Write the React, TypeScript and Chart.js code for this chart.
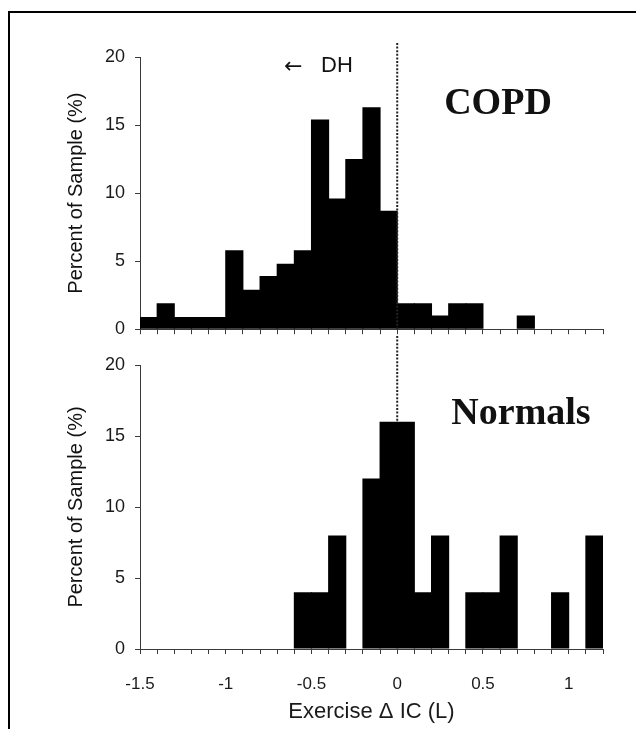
import React, { useEffect, useRef } from 'react';
import { Chart, registerables } from 'chart.js';

Chart.register(...registerables);

// Bin lower edges (L), each bin 0.1 L wide
const binStarts = [
  -1.5, -1.4, -1.3, -1.2, -1.1, -1.0, -0.9, -0.8, -0.7, -0.6, -0.5, -0.4, -0.3, -0.2,
  -0.1, 0.0, 0.1, 0.2, 0.3, 0.4, 0.5, 0.6, 0.7, 0.8, 0.9, 1.0, 1.1,
];

// Percent of sample, COPD
const copdPercent = [
  0.9, 1.9, 0.9, 0.9, 0.9, 5.8, 2.9, 3.9, 4.8, 5.8, 15.4, 9.6, 12.5, 16.3,
  8.7, 1.9, 1.9, 1.0, 1.9, 1.9, 0, 0, 1.0, 0, 0, 0, 0,
];

// Percent of sample, Normals
const normalsPercent = [
  0, 0, 0, 0, 0, 0, 0, 0, 0, 4, 4, 8, 0, 12,
  16, 16, 4, 8, 0, 4, 4, 8, 0, 0, 4, 0, 8,
];

const xTickLabels = ['-1.5', '-1', '-0.5', '0', '0.5', '1'];
const xMin = -1.5;
const xMax = 1.2;
const xStep = 0.1;
const yMin = 0;
const yMax = 20;
const yStep = 5;

const binWidth = 0.1;

const SANS = '"Liberation Sans", Arial, "DejaVu Sans", sans-serif';
const SERIF = '"Liberation Serif", "Times New Roman", serif';
const AXIS_COLOR = '#3a3a3a';

function makeData(values: number[]) {
  return binStarts.map((b, i) => ({ x: b + binWidth / 2, y: values[i] }));
}

function makeOptions(showXLabels: boolean, padTop: number, xAxisHeight: number) {
  return {
    responsive: false,
    animation: false as const,
    events: [],
    layout: { padding: { left: 60, right: 33, top: padTop, bottom: 0 } },
    plugins: { legend: { display: false }, tooltip: { enabled: false } },
    scales: {
      x: {
        type: 'linear' as const,
        min: xMin,
        max: xMax,
        offset: false,
        grid: {
          display: true,
          offset: false,
          drawOnChartArea: false,
          drawTicks: true,
          tickLength: 5,
          color: AXIS_COLOR,
          lineWidth: 1,
        },
        border: { display: true, color: AXIS_COLOR, width: 1 },
        ticks: {
          stepSize: xStep,
          autoSkip: false,
          maxRotation: 0,
          minRotation: 0,
          padding: 20,
          color: '#1a1a1a',
          font: { family: SANS, size: 17 },
          callback: (value: number) => {
            if (!showXLabels) return '';
            const lbl = xTickLabels.find((t) => Math.abs(parseFloat(t) - value) < 1e-6);
            return lbl ?? '';
          },
        },
        title: {
          display: showXLabels,
          text: 'Exercise Δ IC (L)',
          color: '#1a1a1a',
          font: { family: SANS, size: 22 },
          padding: { top: 4, bottom: 4 },
        },
        afterFit: (scale: any) => {
          scale.height = xAxisHeight;
        },
      },
      y: {
        min: yMin,
        max: yMax,
        grid: {
          display: true,
          drawOnChartArea: false,
          drawTicks: true,
          tickLength: 5,
          color: AXIS_COLOR,
          lineWidth: 1,
        },
        border: { display: true, color: AXIS_COLOR, width: 1 },
        ticks: {
          stepSize: yStep,
          padding: 10,
          color: '#1a1a1a',
          font: { family: SANS, size: 18 },
        },
        title: {
          display: true,
          text: 'Percent of Sample (%)',
          color: '#111',
          font: { family: SANS, size: 20 },
          padding: { top: 4, bottom: 4 },
        },
        afterFit: (scale: any) => {
          scale.width = 80;
        },
      },
    },
  };
}

function overlayPlugin(kind: 'copd' | 'normals') {
  return {
    id: 'overlay_' + kind,
    afterDatasetsDraw(chart: any) {
      const ctx = chart.ctx as CanvasRenderingContext2D;
      const x0 = chart.scales.x.getPixelForValue(0);
      ctx.save();
      ctx.strokeStyle = '#222';
      ctx.lineWidth = 2;
      ctx.setLineDash([2, 1.6]);
      ctx.beginPath();
      if (kind === 'copd') {
        ctx.moveTo(x0, 43);
        ctx.lineTo(x0, chart.chartArea.bottom);
      } else {
        ctx.moveTo(x0, 0);
        ctx.lineTo(x0, chart.scales.y.getPixelForValue(16));
      }
      ctx.stroke();
      ctx.setLineDash([]);
      ctx.fillStyle = '#111';
      ctx.textBaseline = 'middle';
      if (kind === 'copd') {
        ctx.textAlign = 'left';
        ctx.font = `22px "DejaVu Sans", sans-serif`;
        ctx.fillText('←', 284, 67);
        ctx.font = `22px ${SANS}`;
        ctx.fillText('DH', 321, 66);
        ctx.textAlign = 'center';
        ctx.font = `bold 38px ${SERIF}`;
        ctx.fillText('COPD', 498, 104);
      } else {
        ctx.textAlign = 'center';
        ctx.font = `bold 38px ${SERIF}`;
        ctx.fillText('Normals', 521, 78);
      }
      ctx.restore();
    },
  };
}

function Histogram(props: {
  values: number[];
  kind: 'copd' | 'normals';
  top: number;
  height: number;
  padTop: number;
  xAxisHeight: number;
}) {
  const ref = useRef<HTMLCanvasElement | null>(null);
  useEffect(() => {
    if (!ref.current) return;
    const chart = new Chart(ref.current, {
      type: 'bar',
      data: {
        datasets: [
          {
            data: makeData(props.values) as any,
            backgroundColor: '#000',
            borderWidth: 0,
            barPercentage: 1.06,
            categoryPercentage: 1,
          } as any,
        ],
      },
      options: makeOptions(props.kind === 'normals', props.padTop, props.xAxisHeight) as any,
      plugins: [overlayPlugin(props.kind)],
    });
    return () => chart.destroy();
  }, []);
  return (
    <canvas
      ref={ref}
      width={636}
      height={props.height}
      style={{ position: 'absolute', left: 0, top: props.top, width: 636, height: props.height }}
    />
  );
}

export default function App() {
  return (
    <div
      style={{
        position: 'fixed',
        left: 0,
        top: 0,
        width: 636,
        height: 729,
        overflow: 'hidden',
        background: '#fff',
      }}
    >
      <div
        style={{
          position: 'absolute',
          left: 8,
          top: 11,
          width: 800,
          height: 900,
          borderLeft: '2px solid #000',
          borderTop: '2px solid #000',
        }}
      />
      <Histogram values={copdPercent} kind="copd" top={0} height={350} padTop={57} xAxisHeight={14} />
      <Histogram values={normalsPercent} kind="normals" top={336} height={393} padTop={29} xAxisHeight={80} />
    </div>
  );
}
